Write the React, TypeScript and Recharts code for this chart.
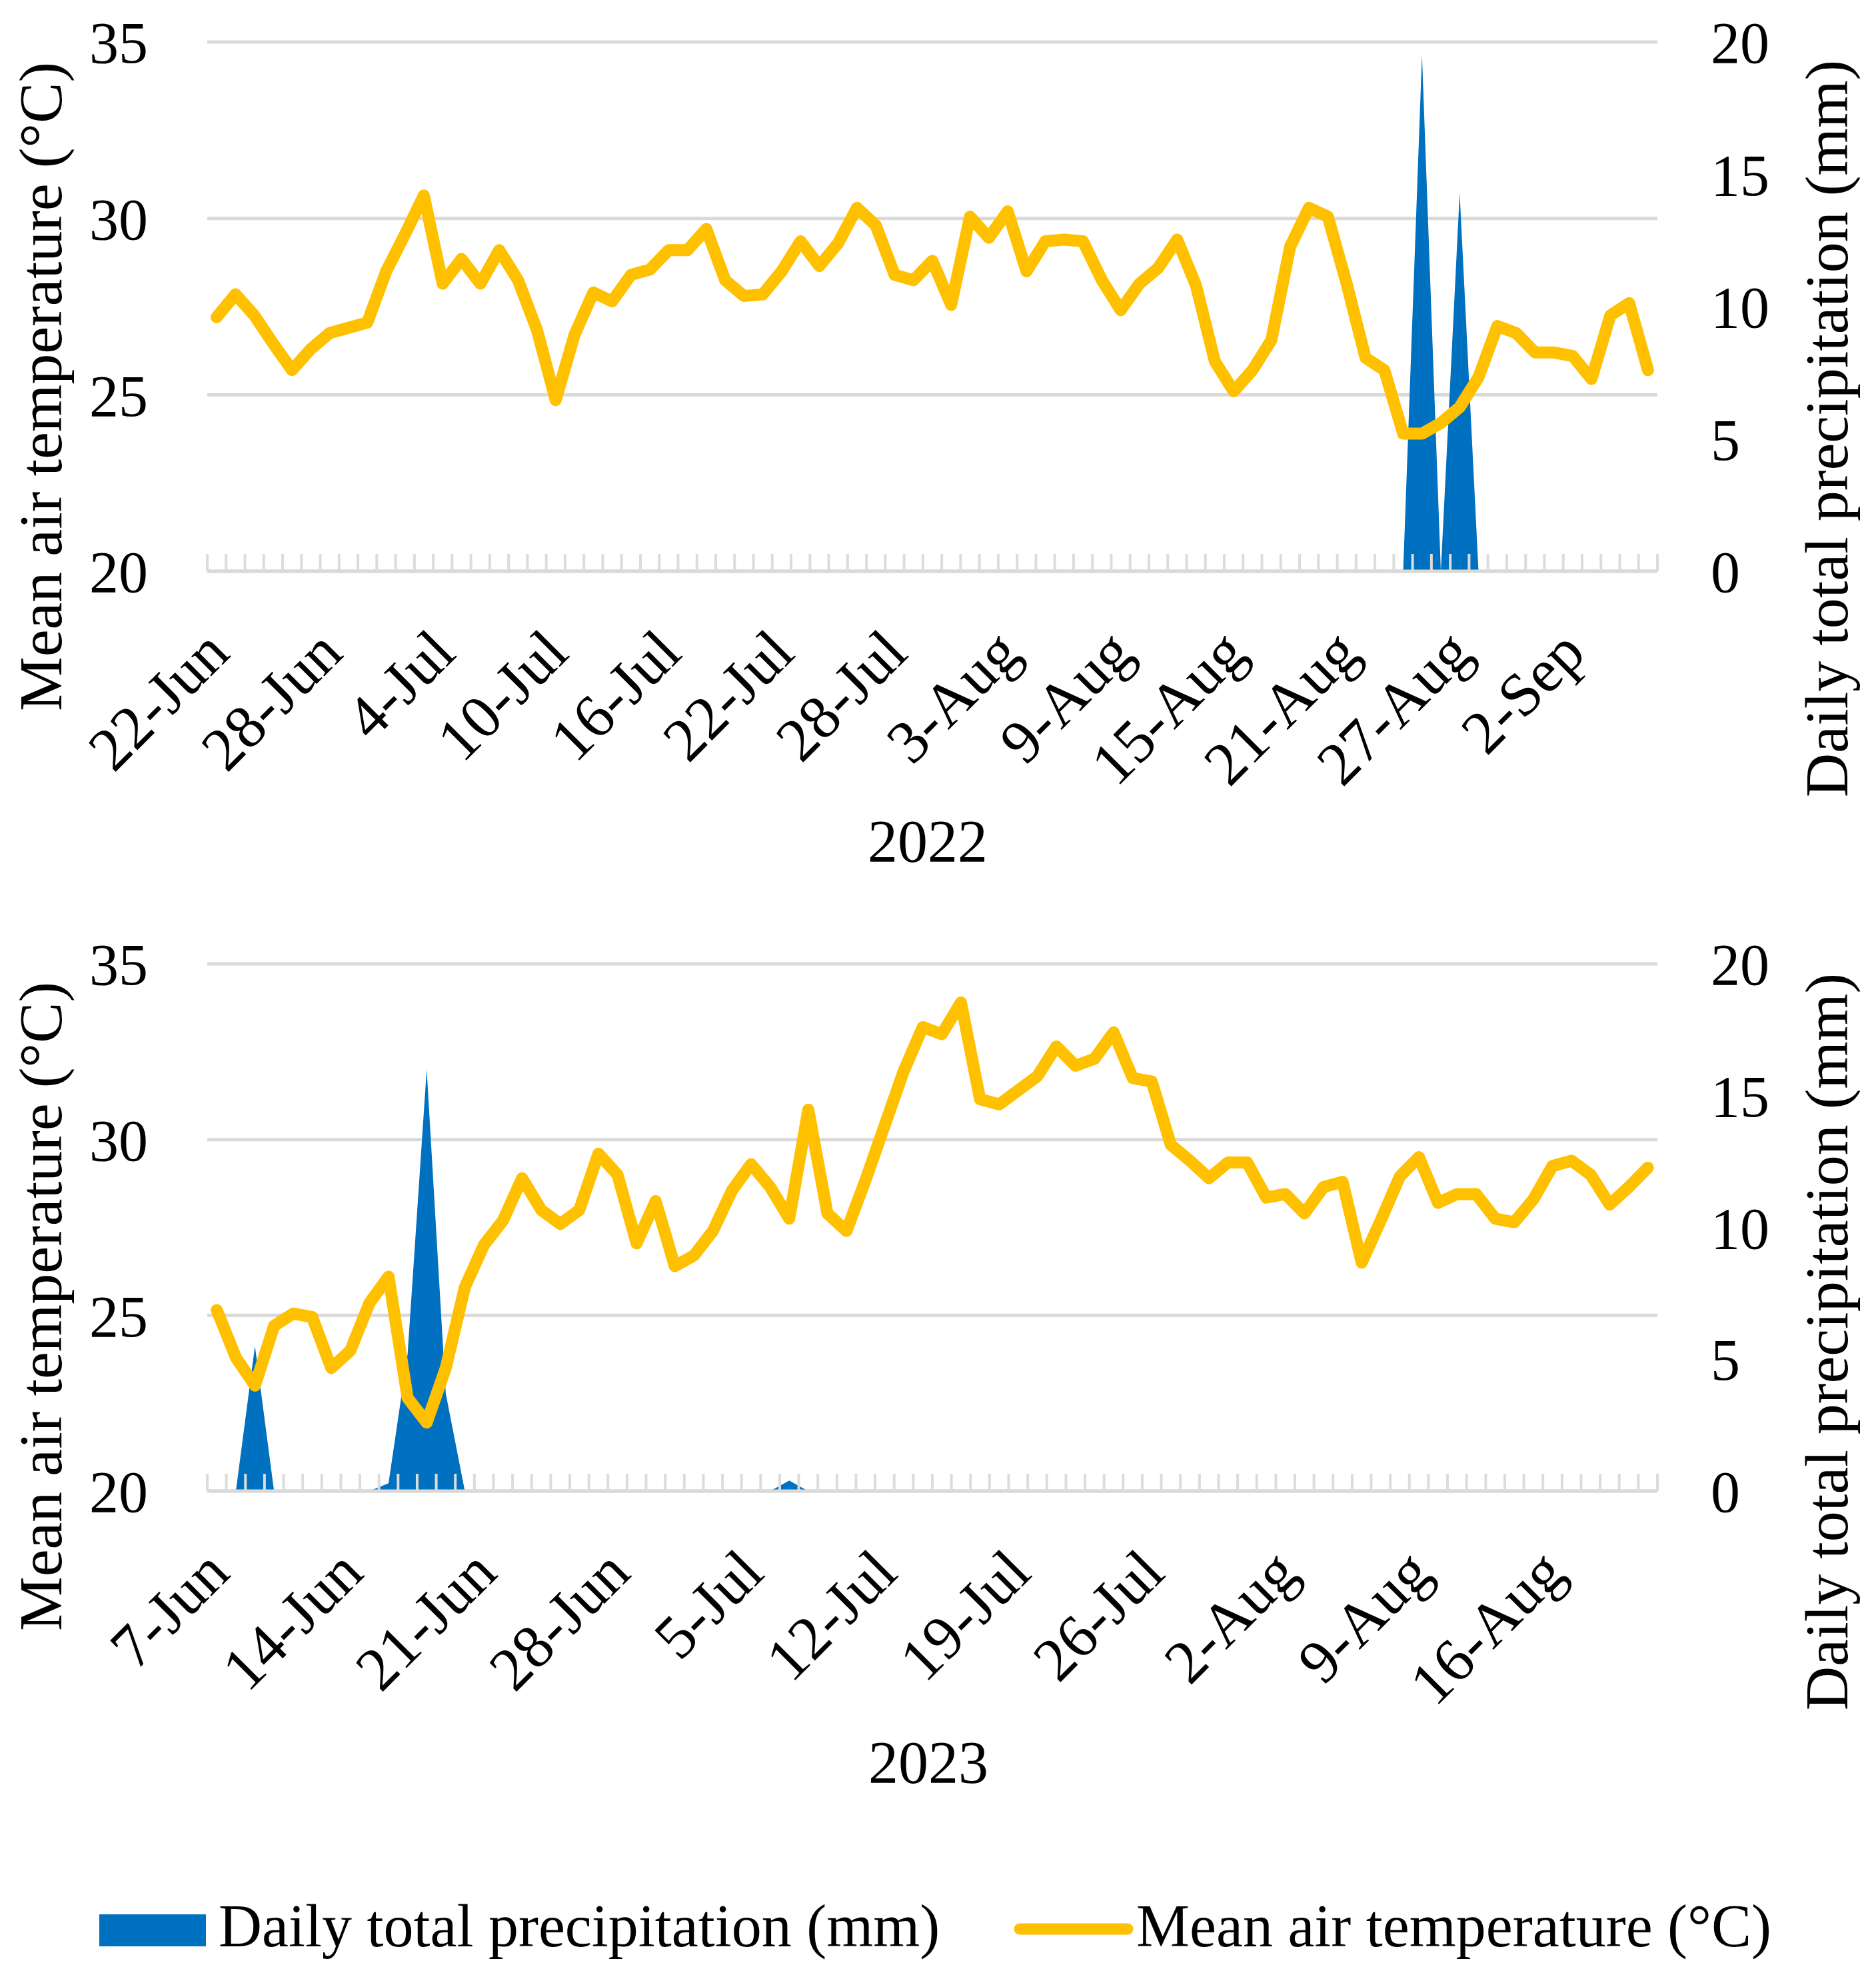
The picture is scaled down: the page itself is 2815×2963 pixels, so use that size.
import React from 'react';
import { Area, CartesianGrid, ComposedChart, Line, XAxis, YAxis } from 'recharts';

const FONT = "'Liberation Serif', 'Times New Roman', serif";
const BLUE = '#0070C0';
const GOLD = '#FFC000';
const GRID = '#d9d9d9';

// 2022 season: 22-Jun .. 6-Sep, one value per day
const temp2022 = [
  27.2, 27.85, 27.25, 26.45, 25.7, 26.3, 26.75, 26.9, 27.05, 28.5,
  29.55, 30.65, 28.15, 28.85, 28.15, 29.1, 28.25, 26.85, 24.85, 26.7,
  27.9, 27.65, 28.4, 28.55, 29.1, 29.1, 29.7, 28.25, 27.8, 27.85,
  28.5, 29.35, 28.65, 29.3, 30.3, 29.8, 28.4, 28.25, 28.8, 27.55,
  30.05, 29.45, 30.2, 28.5, 29.35, 29.4, 29.35, 28.25, 27.4, 28.15,
  28.6, 29.4, 28.1, 25.95, 25.1, 25.7, 26.55, 29.2, 30.3, 30.05,
  28.15, 26.05, 25.7, 23.9, 23.9, 24.2, 24.65, 25.5, 26.95, 26.75,
  26.2, 26.2, 26.1, 25.45, 27.25, 27.6, 25.7,
];
const rain2022 = [
  0, 0, 0, 0, 0, 0, 0, 0, 0, 0,
  0, 0, 0, 0, 0, 0, 0, 0, 0, 0,
  0, 0, 0, 0, 0, 0, 0, 0, 0, 0,
  0, 0, 0, 0, 0, 0, 0, 0, 0, 0,
  0, 0, 0, 0, 0, 0, 0, 0, 0, 0,
  0, 0, 0, 0, 0, 0, 0, 0, 0, 0,
  0, 0, 0, 0, 19.5, 0, 14.3, 0, 0, 0,
  0, 0, 0, 0, 0, 0, 0,
];
const labels2022 = [
  '22-Jun', '28-Jun', '4-Jul', '10-Jul', '16-Jul', '22-Jul', '28-Jul',
  '3-Aug', '9-Aug', '15-Aug', '21-Aug', '27-Aug', '2-Sep',
];

// 2023 season: 7-Jun .. 21-Aug
const temp2023 = [
  25.15, 23.8, 23.0, 24.7, 25.05, 24.95, 23.5, 24.0, 25.35, 26.1,
  22.65, 21.95, 23.5, 25.8, 27.0, 27.7, 28.9, 28.0, 27.6, 28.0,
  29.6, 29.0, 27.05, 28.25, 26.4, 26.7, 27.4, 28.55, 29.3, 28.65,
  27.75, 30.85, 27.9, 27.4, 28.85, 30.4, 31.95, 33.2, 33.0, 33.9,
  31.15, 31.0, 31.4, 31.8, 32.65, 32.1, 32.3, 33.05, 31.75, 31.65,
  29.85, 29.4, 28.9, 29.35, 29.35, 28.35, 28.45, 27.9, 28.65, 28.8,
  26.5, 27.7, 28.95, 29.5, 28.2, 28.45, 28.45, 27.75, 27.65, 28.3,
  29.25, 29.4, 29.0, 28.15, 28.65, 29.2,
];
const rain2023 = [
  0, 0, 5.5, 0, 0, 0, 0, 0, 0, 0.3,
  5.2, 16.0, 3.7, 0, 0, 0, 0, 0, 0, 0,
  0, 0, 0, 0, 0, 0, 0, 0, 0, 0,
  0.4, 0, 0, 0, 0, 0, 0, 0, 0, 0,
  0, 0, 0, 0, 0, 0, 0, 0, 0, 0,
  0, 0, 0, 0, 0, 0, 0, 0, 0, 0,
  0, 0, 0, 0, 0, 0, 0, 0, 0, 0,
  0, 0, 0, 0, 0, 0,
];
const labels2023 = [
  '7-Jun', '14-Jun', '21-Jun', '28-Jun', '5-Jul', '12-Jul',
  '19-Jul', '26-Jul', '2-Aug', '9-Aug', '16-Aug',
];

const tempTicks = [20, 25, 30, 35];
const rainTicks = [0, 5, 10, 15, 20];

function DateTick(props: any) {
  const { x, y, payload, labels, step } = props;
  const ay = y + 104;
  return (
    <text
      x={x}
      y={ay}
      dy="0.35em"
      textAnchor="end"
      transform={`rotate(-45 ${x} ${ay})`}
      fontSize={92}
      fontFamily={FONT}
      fill="#000"
    >
      {labels[Math.round(payload.value / step)]}
    </text>
  );
}

// the small day marks only need their tick line, no text
const NoLabel = () => <g />;

type PanelProps = {
  temps: number[];
  rain: number[];
  labels: string[];
  step: number;
  plotTop: number;
};

function Panel({ temps, rain, labels, step, plotTop }: PanelProps) {
  const n = temps.length;
  const rows = temps.map((t, i) => ({ idx: i, temp: t, rain: rain[i] }));
  const labelTicks = labels.map((_, k) => k * step);
  const dayEdges = Array.from({ length: n + 1 }, (_, k) => k - 0.5);

  return (
    <ComposedChart
      width={2815}
      height={1340}
      data={rows}
      margin={{ top: plotTop, right: 0, bottom: 0, left: 0 }}
    >
      <CartesianGrid xAxisId="days" yAxisId="temp" vertical={false} stroke={GRID} strokeWidth={5} />
      <Area
        xAxisId="days"
        yAxisId="rain"
        type="linear"
        dataKey="rain"
        fill={BLUE}
        fillOpacity={1}
        stroke="none"
        isAnimationActive={false}
      />
      <XAxis
        xAxisId="edges"
        type="number"
        dataKey="idx"
        domain={[-0.5, n - 0.5]}
        allowDataOverflow
        ticks={dayEdges}
        interval={0}
        mirror
        height={1}
        tick={<NoLabel />}
        tickSize={26}
        tickLine={{ stroke: '#dcdcdc', strokeWidth: 4 }}
        axisLine={false}
        zIndex={1000}
      />
      <Line
        xAxisId="days"
        yAxisId="temp"
        type="linear"
        dataKey="temp"
        stroke={GOLD}
        strokeWidth={18}
        strokeLinejoin="round"
        strokeLinecap="round"
        dot={false}
        activeDot={false}
        isAnimationActive={false}
      />
      <XAxis
        xAxisId="days"
        type="number"
        dataKey="idx"
        domain={[-0.5, n - 0.5]}
        allowDataOverflow
        ticks={labelTicks}
        interval={0}
        height={483}
        tickSize={0}
        tickMargin={0}
        tickLine={false}
        axisLine={{ stroke: GRID, strokeWidth: 5 }}
        tick={<DateTick labels={labels} step={step} />}
      />
      <YAxis
        yAxisId="temp"
        orientation="left"
        width={311}
        domain={[20, 35]}
        ticks={tempTicks}
        interval={0}
        tickSize={0}
        tickMargin={89}
        axisLine={false}
        tickLine={false}
        tick={{ fontSize: 88, fill: '#000', fontFamily: FONT }}
      />
      <YAxis
        yAxisId="rain"
        orientation="right"
        width={328}
        domain={[0, 20]}
        ticks={rainTicks}
        interval={0}
        tickSize={0}
        tickMargin={80}
        axisLine={false}
        tickLine={false}
        tick={{ fontSize: 88, fill: '#000', fontFamily: FONT }}
      />
    </ComposedChart>
  );
}

function VTitle({ x, y, children }: { x: number; y: number; children: string }) {
  return (
    <text x={x} y={y} transform={`rotate(-90 ${x} ${y})`} textAnchor="middle" fontSize={92} fill="#000">
      {children}
    </text>
  );
}

export default function App() {
  return (
    <div
      style={{
        position: 'absolute',
        left: 0,
        top: 0,
        width: 2815,
        height: 2963,
        background: '#fff',
        fontFamily: FONT,
      }}
    >
      <div style={{ position: 'absolute', left: 0, top: 0 }}>
        <Panel temps={temp2022} rain={rain2022} labels={labels2022} step={6} plotTop={63} />
      </div>
      <div style={{ position: 'absolute', left: 0, top: 1380 }}>
        <Panel temps={temp2023} rain={rain2023} labels={labels2023} step={7} plotTop={66} />
      </div>
      <svg
        width={2815}
        height={2963}
        style={{ position: 'absolute', left: 0, top: 0, pointerEvents: 'none' }}
        fontFamily={FONT}
      >
        <VTitle x={92} y={580}>Mean air temperature (°C)</VTitle>
        <VTitle x={2772} y={643}>Daily total precipitation (mm)</VTitle>
        <VTitle x={92} y={1960}>Mean air temperature (°C)</VTitle>
        <VTitle x={2772} y={2013}>Daily total precipitation (mm)</VTitle>
        <text x={1392} y={1293} textAnchor="middle" fontSize={90} fill="#000">2022</text>
        <text x={1393} y={2675} textAnchor="middle" fontSize={90} fill="#000">2023</text>

        <rect x={149} y={2872} width={160} height={48} fill={BLUE} />
        <text x={328} y={2920} fontSize={90} fill="#000">Daily total precipitation (mm)</text>
        <line x1={1530} y1={2894} x2={1692} y2={2894} stroke={GOLD} strokeWidth={17} strokeLinecap="round" />
        <text x={1705} y={2920} fontSize={90} fill="#000">Mean air temperature (°C)</text>
      </svg>
    </div>
  );
}
